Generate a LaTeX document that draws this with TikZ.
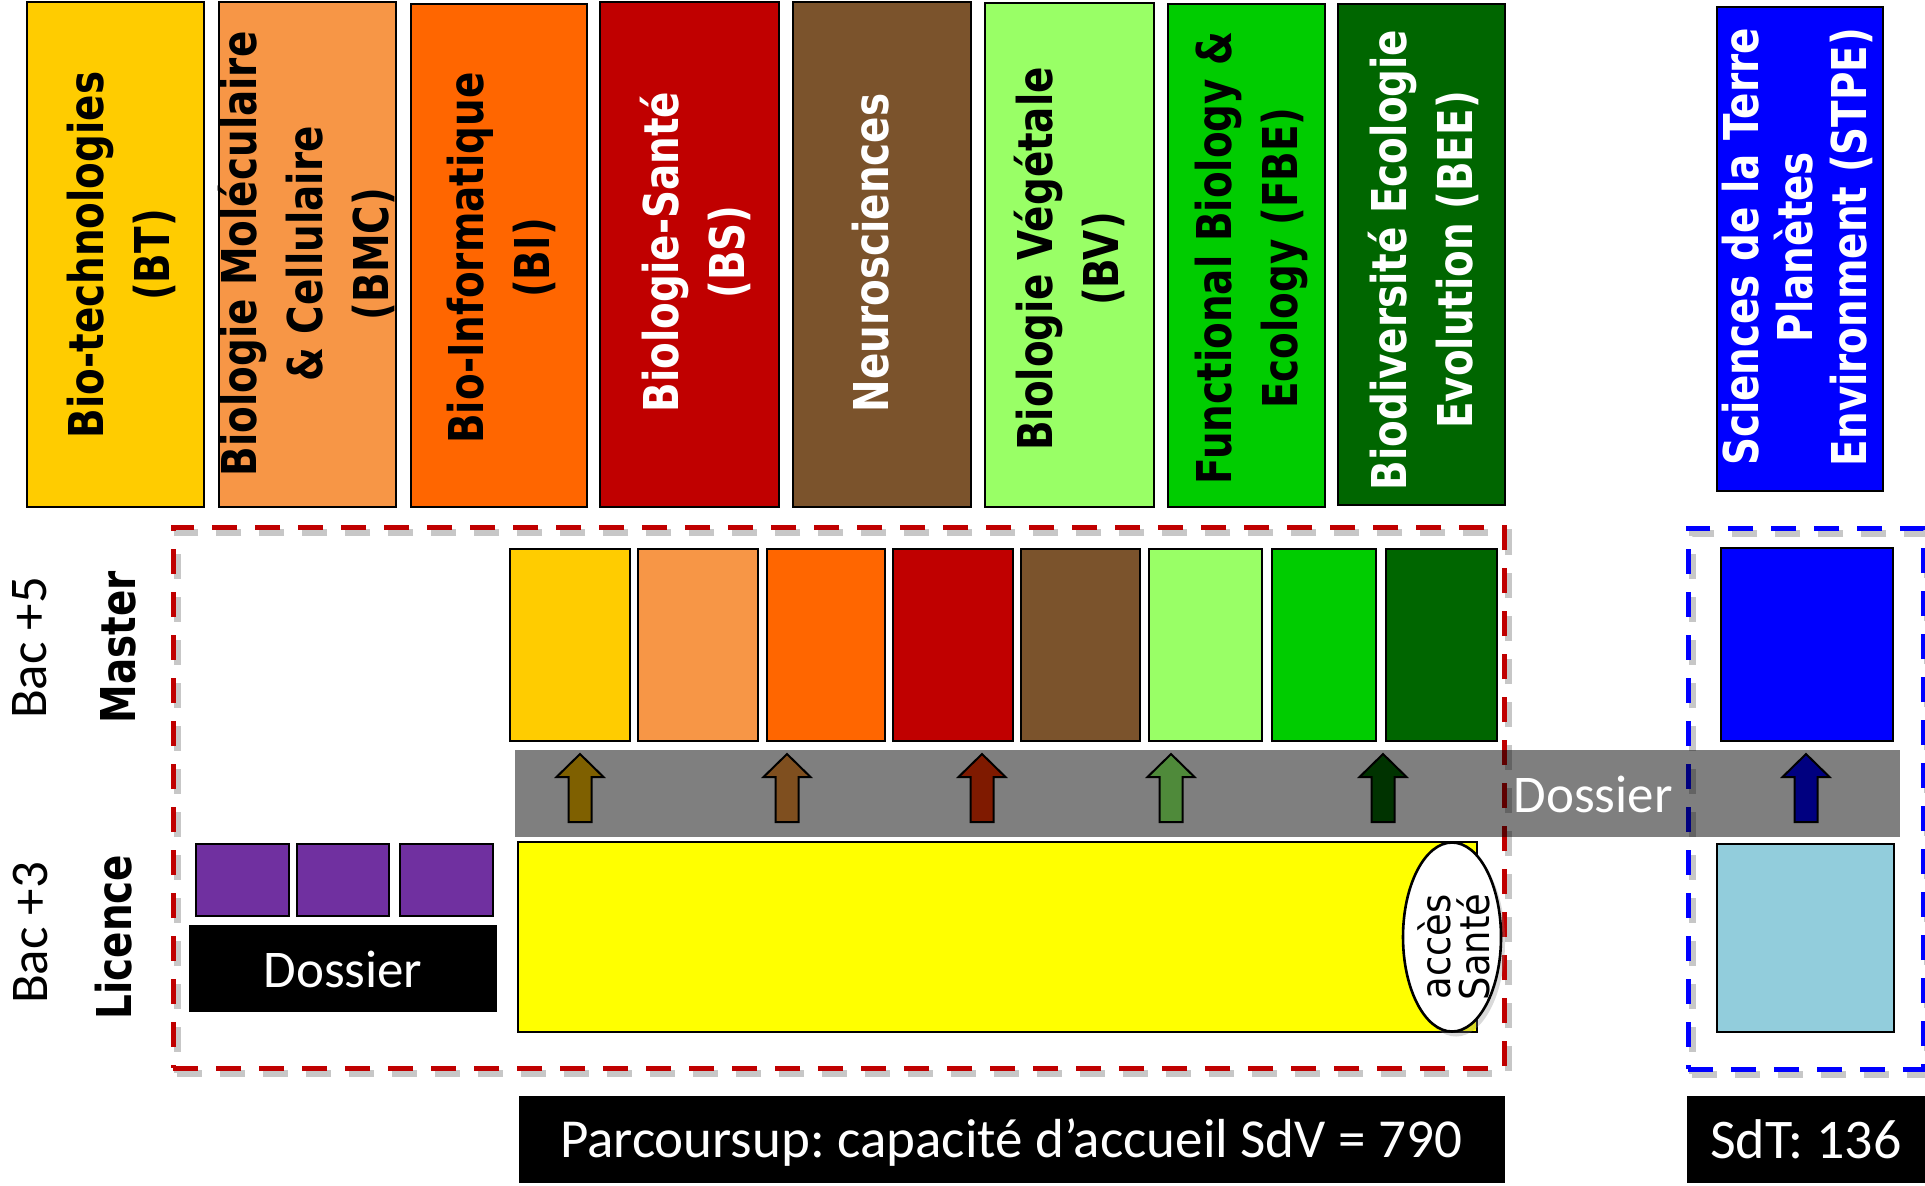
\documentclass[tikz,border=0pt]{standalone}
\usepackage{fontspec}
\usetikzlibrary{shapes.geometric,shadows}
\newfontfamily\tf[FakeStretch=0.81]{DejaVu Sans}
\newfontfamily\ef[FakeStretch=0.9]{DejaVu Sans}
\newfontfamily\cf{Carlito}
\frenchspacing
\definecolor{cBT}{HTML}{FFCC00}
\definecolor{cBMC}{HTML}{F79646}
\definecolor{cBI}{HTML}{FF6600}
\definecolor{cBS}{HTML}{C00000}
\definecolor{cNE}{HTML}{7B532C}
\definecolor{cBV}{HTML}{99FF66}
\definecolor{cFBE}{HTML}{00CC00}
\definecolor{cBEE}{HTML}{006600}
\definecolor{cST}{HTML}{0000FF}
\definecolor{cPU}{HTML}{7030A0}
\definecolor{cYE}{HTML}{FFFF00}
\definecolor{cLB}{HTML}{92CDDC}
\definecolor{cRD}{HTML}{C00000}
\definecolor{aA}{HTML}{7F6000}
\definecolor{aB}{HTML}{7F4F1F}
\definecolor{aC}{HTML}{7F1A00}
\definecolor{aD}{HTML}{4F8A3A}
\definecolor{aE}{HTML}{003300}
\definecolor{aF}{HTML}{000080}
\newcommand\bx[6]{\node[#6, minimum width={(#4-#2)*0.5pt}, minimum height={(#5-#3)*0.5pt}] (#1) at ({(#2+#4)/2},{(#3+#5)/2}) {};}
\newcommand\uparr[2]{\draw[arrowshape, fill=#2] (#1,754) -- (#1+23.5,777) -- (#1+11.5,777) -- (#1+11.5,822) -- (#1-11.5,822) -- (#1-11.5,777) -- (#1-23.5,777) -- cycle;}
\tikzset{
  box/.style={draw=black, line width=1.3pt, inner sep=0pt},
  plain/.style={draw=none, inner sep=0pt},
  ttl/.style={font=\tf\bfseries\fontsize{24}{33}\selectfont, align=center, rotate=90, inner sep=0pt},
  lbl/.style={font=\cf\fontsize{26.5}{30}\selectfont, inner sep=0pt},
  dashline/.style={line width=2.5pt, dash pattern=on 12.5pt off 9pt, inner sep=0pt},
  shadowline/.style={draw=black, draw opacity=0.22, line width=3.5pt, dash pattern=on 12.5pt off 9pt, inner sep=0pt},
  arrowshape/.style={draw=black, line width=1pt, line join=miter},
}
\begin{document}
\begin{tikzpicture}[x=0.5pt,y=-0.5pt]
\useasboundingbox (0,0) rectangle (1925,1185);
% top boxes
\bx{BT}{27}{2}{204}{507}{box, fill=cBT}
\bx{BMC}{219}{2}{396}{507}{box, fill=cBMC}
\bx{BI}{411}{4}{587}{507}{box, fill=cBI}
\bx{BS}{600}{2}{779}{507}{box, fill=cBS}
\bx{NE}{793}{2}{971}{507}{box, fill=cNE}
\bx{BV}{985}{3}{1154}{507}{box, fill=cBV}
\bx{FBE}{1168}{4}{1325}{507}{box, fill=cFBE}
\bx{BEE}{1338}{4}{1505}{505}{box, fill=cBEE}
\bx{STPE}{1717}{7}{1883}{491}{box, fill=cST}
\node[ttl] (BTt) at (121,255) {Bio-technologies\\(BT)};
\node[ttl] (BMCt) at (306,254) {Biologie Moléculaire\\\& Cellulaire\\(BMC)};
\node[ttl] (BIt) at (501,258) {Bio-Informatique\\(BI)};
\node[ttl, text=white] (BSt) at (695,252) {Biologie-Santé\\(BS)};
\node[ttl, text=white] (NEt) at (871,253) {Neurosciences};
\node[ttl] (BVt) at (1069,259) {Biologie Végétale\\(BV)};
\node[ttl] (FBEt) at (1251,258) {Functional Biology \&\\Ecology (FBE)};
\node[ttl, text=white] (BEEt) at (1423,260) {Biodiversité Ecologie\\Evolution (BEE)};
\node[ttl, text=white, font=\tf\bfseries\fontsize{24}{27}\selectfont] (STPEt) at (1797,247) {Sciences de la Terre\\Planètes\\Environment (STPE)};
% dashed frames with shadows
\bx{redsh}{177}{532}{1508}{1073}{shadowline}
\bx{bluesh}{1692}{533}{1927}{1074}{shadowline}
\bx{redbox}{173}{527}{1504}{1068}{dashline, draw=cRD}
\bx{bluebox}{1688}{528}{1923}{1069}{dashline, draw=cST}
% master boxes
\bx{m1}{510}{549}{630}{741}{box, fill=cBT}
\bx{m2}{638}{549}{758}{741}{box, fill=cBMC}
\bx{m3}{767}{549}{885}{741}{box, fill=cBI}
\bx{m4}{893}{549}{1013}{741}{box, fill=cBS}
\bx{m5}{1021}{549}{1140}{741}{box, fill=cNE}
\bx{m6}{1149}{549}{1262}{741}{box, fill=cBV}
\bx{m7}{1272}{549}{1376}{741}{box, fill=cFBE}
\bx{m8}{1386}{549}{1497}{741}{box, fill=cBEE}
\bx{mST}{1721}{548}{1893}{741}{box, fill=cST}
% grey band
\bx{band}{515}{750}{1900}{837}{plain, fill=black, fill opacity=0.5}
\uparr{580}{aA}
\uparr{787}{aB}
\uparr{982}{aC}
\uparr{1171}{aD}
\uparr{1383}{aE}
\uparr{1806}{aF}
\node[lbl, text=white, anchor=base] (bandt) at (1593,812) {Dossier};
% licence row
\bx{p1}{196}{844}{289}{916}{box, fill=cPU}
\bx{p2}{297}{844}{389}{916}{box, fill=cPU}
\bx{p3}{400}{844}{493}{916}{box, fill=cPU}
\bx{dos}{189}{925}{497}{1012}{plain, fill=black}
\node[lbl, text=white, anchor=base] (dost) at (343,987) {Dossier};
\bx{lic}{518}{842}{1477}{1032}{box, fill=cYE}
\node[ellipse, draw=black, line width=1.3pt, fill=white, inner sep=0pt, minimum width=49pt, minimum height=94.5pt, drop shadow={shadow xshift=2pt, shadow yshift=-2.5pt, opacity=0.3}] (sante) at (1452,937) {};
\node[rotate=90, align=center, inner sep=0pt, font=\ef\fontsize{20.5}{19.5}\selectfont] (santet) at (1454,947) {accès\\Santé};
\bx{lST}{1717}{844}{1894}{1032}{box, fill=cLB}
% bottom boxes
\bx{parc}{519}{1096}{1505}{1183}{plain, fill=black}
\node[font=\cf\fontsize{27.5}{30}\selectfont, text=white, anchor=base, inner sep=0pt] (parct) at (1011,1157) {Parcoursup: capacité d’accueil SdV = 790};
\bx{sdt}{1687}{1096}{1925}{1183}{plain, fill=black}
\node[font=\cf\fontsize{28}{30}\selectfont, text=white, anchor=base, inner sep=0pt] (sdtt) at (1806,1158) {SdT: 136};
% left labels
\node[lbl, rotate=90] (bac5) at (30,648) {Bac +5};
\node[rotate=90, inner sep=0pt, font=\tf\bfseries\fontsize{24}{30}\selectfont] (master) at (118,647) {Master};
\node[lbl, rotate=90] (bac3) at (30,933) {Bac +3};
\node[rotate=90, inner sep=0pt, font=\tf\bfseries\fontsize{24}{30}\selectfont] (licence) at (114,937) {Licence};
\end{tikzpicture}
\end{document}
